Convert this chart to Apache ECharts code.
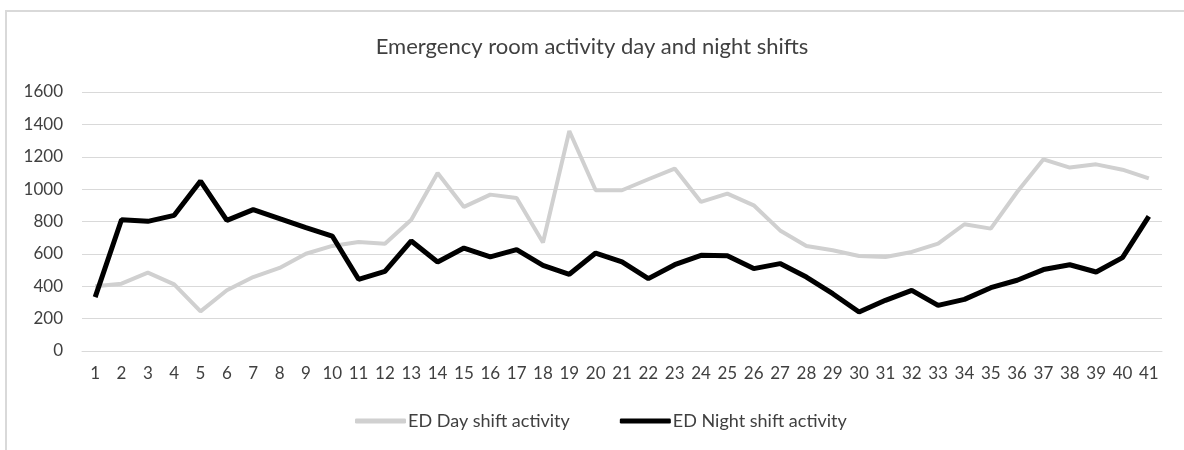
<!DOCTYPE html>
<html>
<head>
<meta charset="utf-8">
<script src="https://cdn.jsdelivr.net/npm/echarts@6/dist/echarts.min.js"></script>
<style>
  html, body { margin: 0; padding: 0; background: #fff; }
  #main { width: 1184px; height: 450px; }
</style>
</head>
<body>
<div id="main"></div>
<script>
const days = []
for (let i = 1; i <= 41; i++) days.push(String(i))

const dayShift = [
    400, 416, 484, 412, 245, 375, 457, 513, 601, 649,
    673, 663, 811, 1100, 890, 966, 945, 670, 1359, 993,
    993, 1061, 1127, 921, 972, 900, 745, 649, 622, 587,
    581, 612, 663, 783, 756, 982, 1184, 1133, 1153, 1120,
    1067
]
const nightShift = [
    333, 811, 801, 838, 1050, 807, 873, 818, 762, 710,
    443, 492, 680, 550, 636, 581, 626, 529, 474, 605,
    550, 447, 533, 591, 588, 509, 540, 457, 354, 241,
    313, 375, 282, 319, 391, 437, 503, 533, 488, 577,
    832
]

const font = 'Lato, "Open Sans", sans-serif'
const chart = echarts.init(document.getElementById('main'))

chart.setOption({
    animation: false,
    title: {
        text: 'Emergency room activity day and night shifts',
        left: 'center',
        top: 31,
        textStyle: { fontFamily: font, fontSize: 22, fontWeight: 'normal', color: '#404040' }
    },
    graphic: [
        { type: 'line', shape: { x1: 5, y1: 11, x2: 1184, y2: 11 }, style: { stroke: '#d9d9d9', lineWidth: 2 } },
        { type: 'line', shape: { x1: 6, y1: 11, x2: 6, y2: 450 }, style: { stroke: '#d9d9d9', lineWidth: 2 } }
    ],
    legend: {
        bottom: 15,
        left: 350,
        itemWidth: 51,
        itemHeight: 5,
        itemGap: 50,
        icon: 'roundRect',
        textStyle: { fontFamily: font, fontSize: 18, color: '#404040', padding: [0, 0, 0, -3] },
        data: ['ED Day shift activity', 'ED Night shift activity']
    },
    grid: { left: 82, right: 22, top: 92, bottom: 99 },
    xAxis: {
        type: 'category',
        data: days,
        boundaryGap: true,
        axisLine: { lineStyle: { color: '#d9d9d9' } },
        axisTick: { show: false },
        axisLabel: { fontFamily: font, fontSize: 17, color: '#404040', margin: 14, interval: 0 }
    },
    yAxis: {
        type: 'value',
        min: 0,
        max: 1600,
        interval: 200,
        axisLine: { show: false },
        axisTick: { show: false },
        splitLine: { lineStyle: { color: '#d9d9d9', width: 1 } },
        axisLabel: { fontFamily: font, fontSize: 17, color: '#404040', margin: 19, formatter: v => String(v) }
    },
    series: [
        {
            name: 'ED Day shift activity',
            type: 'line',
            data: dayShift,
            symbol: 'none',
            itemStyle: { color: '#d0d0d0' },
            lineStyle: { color: '#d0d0d0', width: 4 }
        },
        {
            name: 'ED Night shift activity',
            type: 'line',
            data: nightShift,
            symbol: 'none',
            itemStyle: { color: '#000' },
            lineStyle: { color: '#000', width: 5 }
        }
    ]
})
</script>
</body>
</html>
